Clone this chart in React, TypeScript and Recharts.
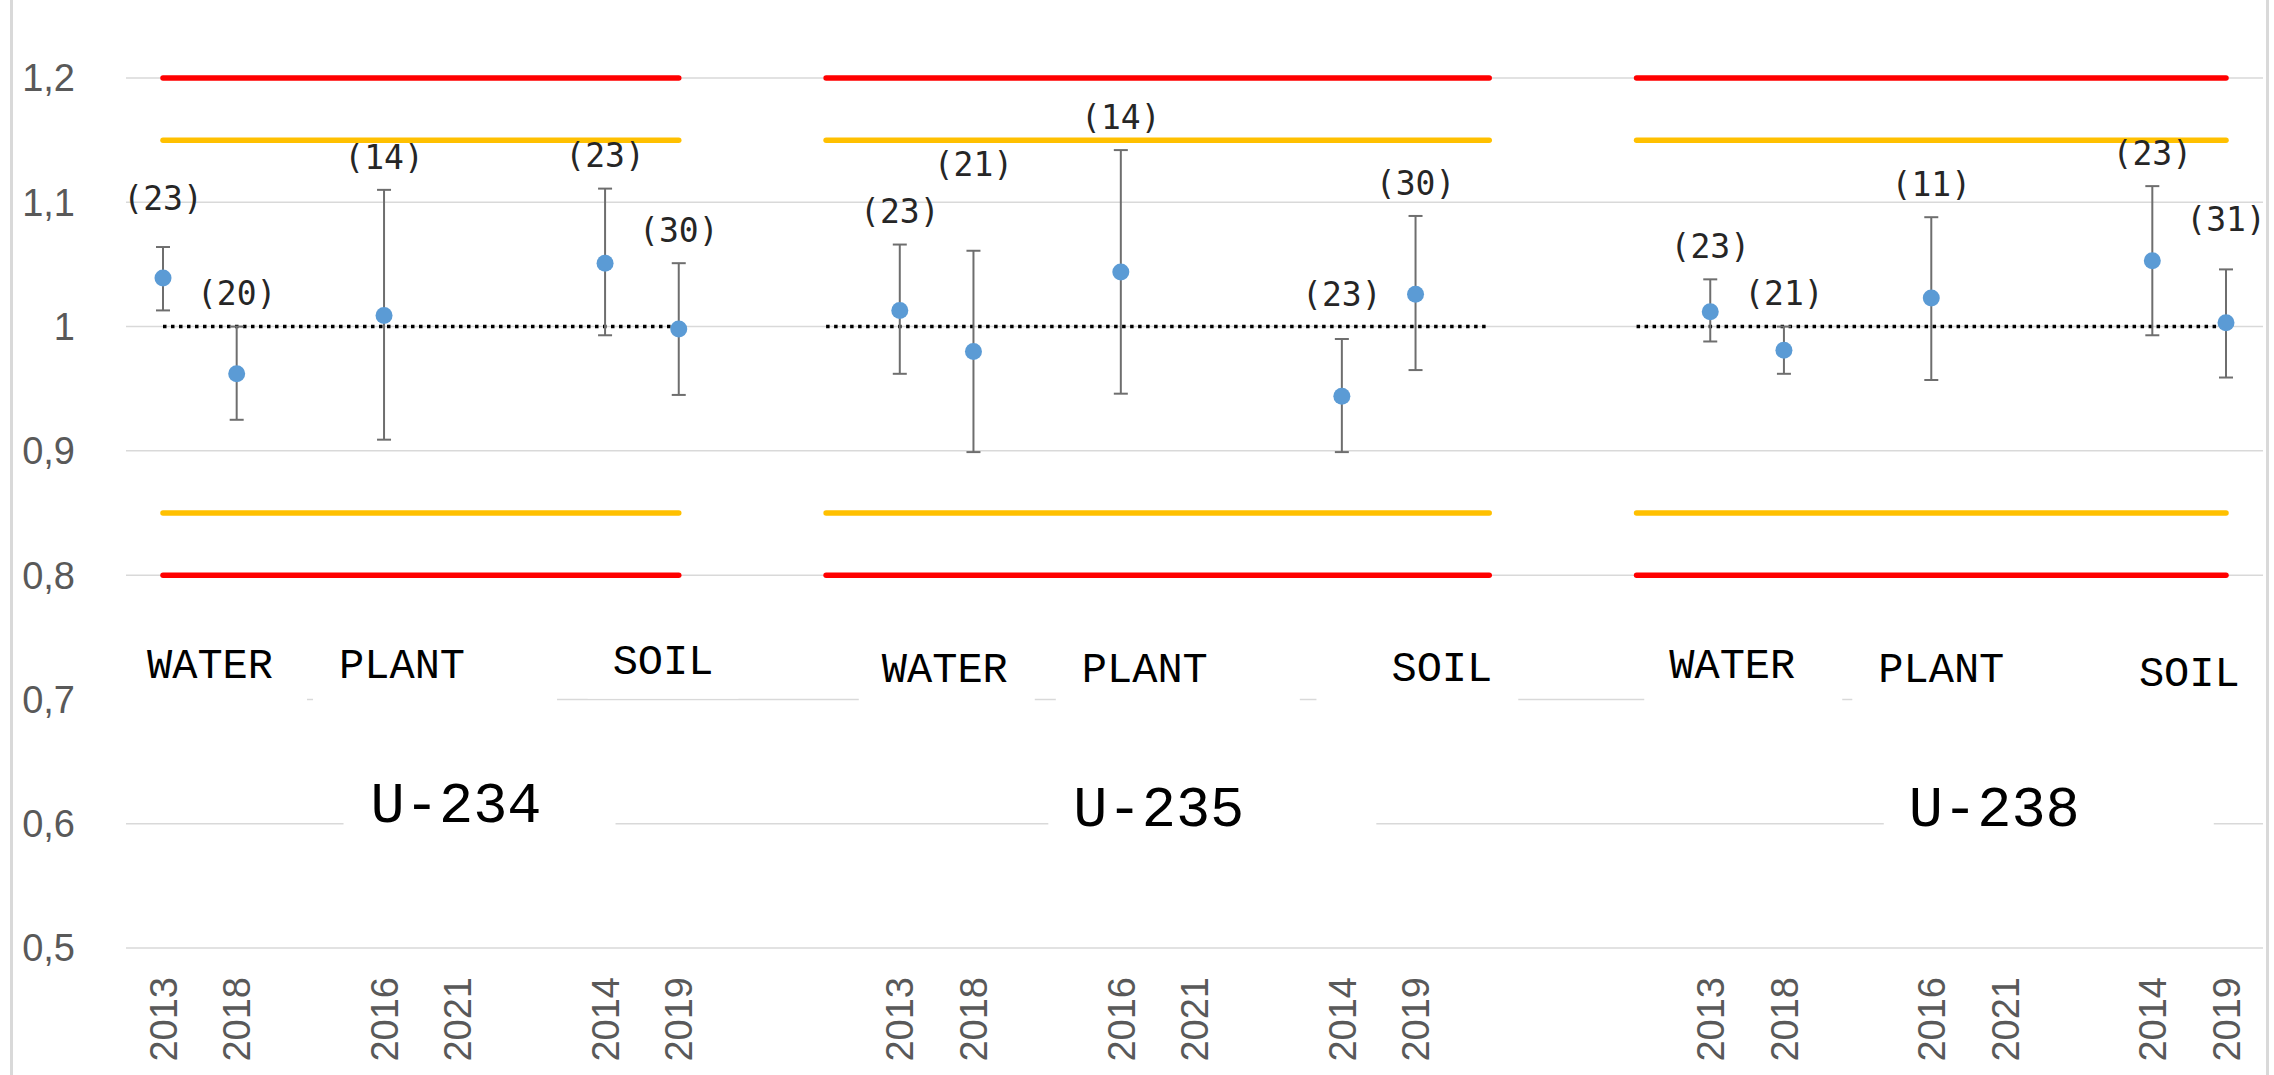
import React from 'react';
import {
  ComposedChart,
  Line,
  XAxis,
  YAxis,
  CartesianGrid,
  ErrorBar,
  ReferenceLine,
  ReferenceDot,
  LabelList,
} from 'recharts';

// Measured / reference activity ratios, read per year column:
// WATER 2013, WATER 2018, PLANT 2016, PLANT 2021, SOIL 2014, SOIL 2019
const isotopes = ['U-234', 'U-235', 'U-238'];
const media = ['WATER', 'PLANT', 'SOIL'];
const sampleYears = ['2013', '2018', '2016', '2021', '2014', '2019'];

const u234Ratio = [1.039, 0.962, 1.009, null, 1.051, 0.998];
const u234Low = [1.013, 0.925, 0.909, null, 0.993, 0.945];
const u234High = [1.064, 1.0, 1.11, null, 1.111, 1.051];
const u234Count = [23, 20, 14, null, 23, 30];

const u235Ratio = [1.013, 0.98, 1.044, null, 0.944, 1.026];
const u235Low = [0.962, 0.899, 0.946, null, 0.899, 0.965];
const u235High = [1.066, 1.061, 1.142, null, 0.99, 1.089];
const u235Count = [23, 21, 14, null, 23, 30];

const u238Ratio = [1.012, 0.981, 1.023, null, 1.053, 1.003];
const u238Low = [0.988, 0.962, 0.957, null, 0.993, 0.959];
const u238High = [1.038, 1.0, 1.088, null, 1.113, 1.046];
const u238Count = [23, 21, 11, null, 23, 31];

const yTicks = [0.5, 0.6, 0.7, 0.8, 0.9, 1, 1.1, 1.2];
const redLimits = [0.8, 1.2];
const amberLimits = [0.85, 1.15];
const targetRatio = 1;

// empty category slots after each isotope block (Excel layout)
const blanksAfterGroup = [2, 3, 0];
// first / last category index of each limit line
const limitSpans = [
  [0, 7],
  [9, 18],
  [20, 28],
];

const series = [
  { ratio: u234Ratio, low: u234Low, high: u234High, count: u234Count },
  { ratio: u235Ratio, low: u235Low, high: u235High, count: u235Count },
  { ratio: u238Ratio, low: u238Low, high: u238High, count: u238Count },
];

type Row = {
  slot: string;
  year: string;
  value?: number | null;
  high?: number | null;
  n?: number | null;
  err?: number[];
};

const rows: Row[] = [];
let gapNo = 0;
const addBlank = () => rows.push({ slot: `gap${gapNo++}`, year: '' });
isotopes.forEach((iso, g) => {
  const s = series[g];
  sampleYears.forEach((year, i) => {
    if (i > 0 && i % 2 === 0) addBlank();
    const v = s.ratio[i];
    const lo = s.low[i];
    const hi = s.high[i];
    rows.push({
      slot: `${iso} ${year}`,
      year,
      value: v,
      high: hi,
      n: s.count[i],
      err: v == null || lo == null || hi == null ? undefined : [v - lo, hi - v],
    });
  });
  for (let k = 0; k < blanksAfterGroup[g]; k++) addBlank();
});

const yearBySlot: Record<string, string> = {};
rows.forEach((r) => (yearBySlot[r.slot] = r.year));

// n-labels sit above the upper whisker; a few were dragged higher by hand
const countLabelLift: Record<string, number> = {
  'U-234 2013': 16,
  'U-235 2018': 54,
  'U-235 2014': 12,
  'U-238 2019': 17,
};

// text boxes (white fill hides the grid like the Excel text boxes)
const mediumLabels = [
  { text: media[0], at: 'U-234 2013', y: 0.728, dx: 47, padL: 25, padR: 34 },
  { text: media[1], at: 'U-234 2016', y: 0.728, dx: 18, padL: 26, padR: 92 },
  { text: media[2], at: 'U-234 2014', y: 0.731, dx: 58, padL: 25, padR: 25 },
  { text: media[0], at: 'U-235 2013', y: 0.725, dx: 45, padL: 23, padR: 27 },
  { text: media[1], at: 'U-235 2016', y: 0.725, dx: 24, padL: 26, padR: 92 },
  { text: media[2], at: 'U-235 2014', y: 0.726, dx: 100, padL: 75, padR: 26 },
  { text: media[0], at: 'U-238 2013', y: 0.728, dx: 22, padL: 25, padR: 47 },
  { text: media[1], at: 'U-238 2016', y: 0.725, dx: 10, padL: 26, padR: 92 },
  { text: media[2], at: 'U-238 2014', y: 0.722, dx: 37, padL: 80, padR: 28 },
];
const isotopeLabels = [
  { text: isotopes[0], at: 'U-234 2016', y: 0.616, dx: 72, padL: 27, padR: 74 },
  { text: isotopes[1], at: 'U-235 2016', y: 0.613, dx: 38, padL: 25, padR: 132 },
  { text: isotopes[2], at: 'U-238 2016', y: 0.613, dx: 63, padL: 25, padR: 134 },
];

const monoFont = '"Liberation Mono", "DejaVu Sans Mono", monospace';
const axisFont = '"Liberation Sans", Arial, sans-serif';

const boxLabel =
  (text: string, fontSize: number, dx: number, padL: number, padR: number) =>
  (props: any) => {
    const { cx, cy } = props;
    if (cx == null || cy == null) return <g />;
    const w = text.length * fontSize * 0.6;
    const left = cx + dx - w / 2;
    return (
      <g>
        <rect
          x={left - padL}
          y={cy - fontSize * 0.9}
          width={w + padL + padR}
          height={fontSize * 1.8}
          fill="#ffffff"
        />
        <text
          x={cx + dx}
          y={cy}
          dy="0.32em"
          textAnchor="middle"
          fontSize={fontSize}
          fontFamily={monoFont}
          fill="#000000"
        >
          {text}
        </text>
      </g>
    );
  };

const YearTick = ({ x, y, payload }: any) => {
  const year = yearBySlot[payload?.value];
  if (!year) return <g />;
  return (
    <g transform={`translate(${x},${y + 29})`}>
      <text
        transform="rotate(-90)"
        textAnchor="end"
        dy="0.36em"
        fill="#595959"
        fontSize={38}
        fontFamily={axisFont}
      >
        {year}
      </text>
    </g>
  );
};

const CountLabel = (props: any) => {
  const x = props.viewBox?.x ?? props.x;
  const y = props.viewBox?.y ?? props.y;
  if (props.value == null || x == null || y == null) return <g />;
  const slot = rows[props.index]?.slot ?? '';
  const lift = countLabelLift[slot] ?? 0;
  return (
    <text
      x={x}
      y={y - 33 - lift}
      dy="0.36em"
      textAnchor="middle"
      fontSize={33}
      fontFamily='"DejaVu Sans Mono", monospace'
      fill="#262626"
    >
      ({props.value})
    </text>
  );
};

const formatTick = (v: number) => String(Math.round(v * 10) / 10).replace('.', ',');

export default function App() {
  const limitLines = limitSpans.flatMap(([a, b], i) => {
    const x1 = rows[a].slot;
    const x2 = rows[b].slot;
    const seg = (v: number) => [
      { x: x1, y: v },
      { x: x2, y: v },
    ];
    return [
      ...redLimits.map((v) => (
        <ReferenceLine
          key={`red-${i}-${v}`}
          segment={seg(v)}
          stroke="#ff0000"
          strokeWidth={5.5}
          strokeLinecap="round"
        />
      )),
      ...amberLimits.map((v) => (
        <ReferenceLine
          key={`amber-${i}-${v}`}
          segment={seg(v)}
          stroke="#ffc000"
          strokeWidth={5.5}
          strokeLinecap="round"
        />
      )),
      <ReferenceLine
        key={`target-${i}`}
        segment={seg(targetRatio)}
        stroke="#000000"
        strokeWidth={3.5}
        strokeDasharray="3.5 4.5"
      />,
    ];
  });

  const textBoxes = [
    ...mediumLabels.map((l, i) => (
      <ReferenceDot
        key={`m-${i}`}
        x={l.at}
        y={l.y}
        r={0}
        shape={boxLabel(l.text, 42, l.dx, l.padL, l.padR)}
      />
    )),
    ...isotopeLabels.map((l, i) => (
      <ReferenceDot
        key={`i-${i}`}
        x={l.at}
        y={l.y}
        r={0}
        shape={boxLabel(l.text, 57, l.dx, l.padL, l.padR)}
      />
    )),
  ];

  return (
    <div style={{ position: 'absolute', left: 0, top: 0, width: 2274, height: 1075, background: '#fff' }}>
      <ComposedChart
        width={2274}
        height={1075}
        data={rows}
        margin={{ top: 78, right: 11, bottom: 0, left: 0 }}
      >
        <CartesianGrid vertical={false} stroke="#d9d9d9" strokeWidth={1.5} />
        <XAxis
          dataKey="slot"
          type="category"
          interval={0}
          padding={{ left: 37, right: 37 }}
          axisLine={false}
          tickLine={false}
          tickSize={0}
          tickMargin={0}
          height={127}
          tick={<YearTick />}
        />
        <YAxis
          type="number"
          domain={[0.5, 1.2]}
          ticks={yTicks}
          allowDataOverflow
          width={126}
          axisLine={false}
          tickLine={false}
          tickSize={0}
          tickMargin={51}
          tickFormatter={formatTick}
          tick={{ fill: '#595959', fontSize: 38, fontFamily: axisFont }}
        />
        {textBoxes}
        {limitLines}
        <Line
          dataKey="high"
          stroke="none"
          dot={false}
          activeDot={false}
          isAnimationActive={false}
          legendType="none"
        >
          <LabelList dataKey="n" content={CountLabel} />
        </Line>
        <Line
          dataKey="value"
          stroke="none"
          dot={{ r: 8.5, fill: '#5b9bd5', stroke: 'none' }}
          activeDot={false}
          isAnimationActive={false}
        >
          <ErrorBar dataKey="err" direction="y" width={7} stroke="#6e6e6e" strokeWidth={2} />
        </Line>
      </ComposedChart>
      <div style={{ position: 'absolute', left: 10, top: 0, width: 3, height: 1075, background: '#d9d9d9' }} />
      <div style={{ position: 'absolute', left: 2266, top: 0, width: 3, height: 1075, background: '#d9d9d9' }} />
    </div>
  );
}
